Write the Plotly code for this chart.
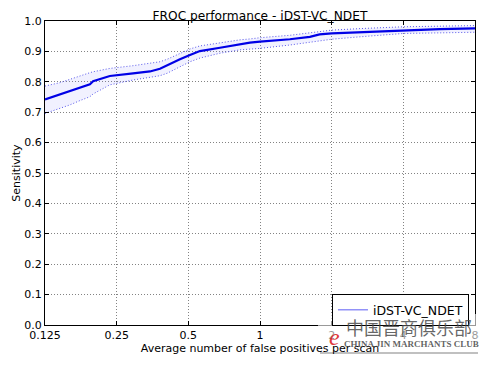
import math
import plotly.graph_objects as go

# False positives per scan (x) and sensitivity values
fp_rate = [0.125, 0.144, 0.159, 0.175, 0.193, 0.199, 0.234, 0.293, 0.345, 0.38, 0.407,
           0.461, 0.508, 0.559, 0.679, 0.823, 0.907, 1.0, 1.335, 1.62, 1.78, 2.0,
           2.63, 4.0, 5.69, 8.0]
sens_mean = [0.742, 0.758, 0.770, 0.781, 0.792, 0.802, 0.819, 0.828, 0.834, 0.843, 0.855,
             0.874, 0.888, 0.901, 0.912, 0.923, 0.929, 0.932, 0.940, 0.948, 0.956, 0.959,
             0.963, 0.968, 0.973, 0.976]
sens_upper = [0.786, 0.797, 0.808, 0.820, 0.830, 0.833, 0.844, 0.853, 0.861, 0.866, 0.874,
              0.892, 0.908, 0.918, 0.929, 0.938, 0.941, 0.945, 0.953, 0.962, 0.966, 0.970,
              0.975, 0.981, 0.983, 0.985]
sens_lower = [0.696, 0.712, 0.724, 0.738, 0.751, 0.760, 0.790, 0.806, 0.814, 0.820, 0.828,
              0.848, 0.866, 0.878, 0.894, 0.905, 0.907, 0.910, 0.921, 0.930, 0.936, 0.940,
              0.948, 0.959, 0.961, 0.963]

x_ticks = [0.125, 0.25, 0.5, 1, 2, 4, 8]
x_tick_labels = ["0.125", "0.25", "0.5", "1", "2", "4", "8"]
y_ticks = [0.0, 0.1, 0.2, 0.3, 0.4, 0.5, 0.6, 0.7, 0.8, 0.9, 1.0]
y_tick_labels = ["0.0", "0.1", "0.2", "0.3", "0.4", "0.5", "0.6", "0.7", "0.8", "0.9", "1.0"]

series_name = "iDST-VC_NDET"
FONT = "DejaVu Sans"

# the page body has an 8px margin, so the figure is sized/placed to compensate
W, H = 480, 357

fig = go.Figure()
fig.add_trace(go.Scatter(x=fp_rate, y=sens_lower, mode="lines",
                         line=dict(color="rgba(60,60,230,0.85)", width=1, dash="1px,2px"),
                         showlegend=False, hoverinfo="skip"))
fig.add_trace(go.Scatter(x=fp_rate, y=sens_upper, mode="lines", fill="tonexty",
                         fillcolor="rgba(120,120,255,0.10)",
                         line=dict(color="rgba(60,60,230,0.85)", width=1, dash="1px,2px"),
                         showlegend=False, hoverinfo="skip"))
fig.add_trace(go.Scatter(x=fp_rate, y=sens_mean, mode="lines",
                         line=dict(color="#0000e6", width=2.2),
                         showlegend=False))
fig.add_trace(go.Scatter(x=[None], y=[None], mode="lines", name=series_name,
                         line=dict(color="rgba(110,110,245,0.75)", width=1.5)))

axis_common = dict(showline=True, linecolor="black", linewidth=1, mirror="ticks",
                   ticks="inside", ticklen=4, tickcolor="black", automargin=False,
                   showgrid=True, gridcolor="rgba(100,100,100,0.8)", griddash="1px,2px", gridwidth=1,
                   zeroline=False, tickfont=dict(family=FONT, size=11, color="black"))

fig.update_layout(
    width=W, height=H,
    margin=dict(l=37, r=13, t=13, b=40),
    paper_bgcolor="white", plot_bgcolor="white",
    title=dict(text="FROC performance - " + series_name, x=252 / W, xanchor="center",
               y=1 - 7.5 / H, yanchor="middle", automargin=False,
               font=dict(family=FONT, size=12.2, color="black")),
    xaxis=dict(type="log", range=[math.log10(0.125), math.log10(8)],
               tickvals=x_ticks, ticktext=x_tick_labels,
               title=dict(text="Average number of false positives per scan", standoff=2,
                          font=dict(family=FONT, size=11, color="black")),
               **axis_common),
    yaxis=dict(range=[0, 1.0], tickvals=y_ticks, ticktext=y_tick_labels,
               title=dict(text="Sensitivity", standoff=1,
                          font=dict(family=FONT, size=11, color="black")),
               **axis_common),
    legend=dict(x=0.986, y=-0.004, xanchor="right", yanchor="bottom",
                bordercolor="black", borderwidth=1, bgcolor="white",
                font=dict(family=FONT, size=12.5, color="black")),
    showlegend=True,
)

# watermark overlay (positions in screen pixels relative to plot area 45..475 x, 21..325 y)
def px(xs):
    return (xs - 45) / 430

def py(ys):
    return (325 - ys) / 304

fig.add_shape(type="rect", xref="paper", yref="paper",
              x0=px(318), x1=px(478), y0=py(353), y1=py(314),
              fillcolor="rgba(255,255,255,0.6)", line=dict(width=0), layer="above")
fig.add_shape(type="line", xref="paper", yref="paper",
              x0=px(320), x1=px(478), y0=py(353), y1=py(353),
              line=dict(color="rgba(150,150,150,0.6)", width=2), layer="above")
fig.add_annotation(text="中国晋商俱乐部", xref="paper", yref="paper", xanchor="center", yanchor="middle",
                   x=px(409), y=py(327), showarrow=False,
                   font=dict(family="Noto Sans CJK SC", size=18, color="rgba(75,75,75,0.85)"))
fig.add_annotation(text="<b>CHINA JIN MARCHANTS CLUB</b>", xref="paper", yref="paper",
                   xanchor="center", yanchor="middle",
                   x=px(411), y=py(344), showarrow=False,
                   font=dict(family="Liberation Serif", size=9, color="rgba(70,70,70,0.85)"))
fig.add_annotation(text="<i>e</i>", xref="paper", yref="paper", xanchor="center", yanchor="middle",
                   x=px(334), y=py(337), showarrow=False,
                   font=dict(family="Liberation Serif", size=24, color="rgba(220,30,30,0.9)"))

fig.write_html("out.html")
